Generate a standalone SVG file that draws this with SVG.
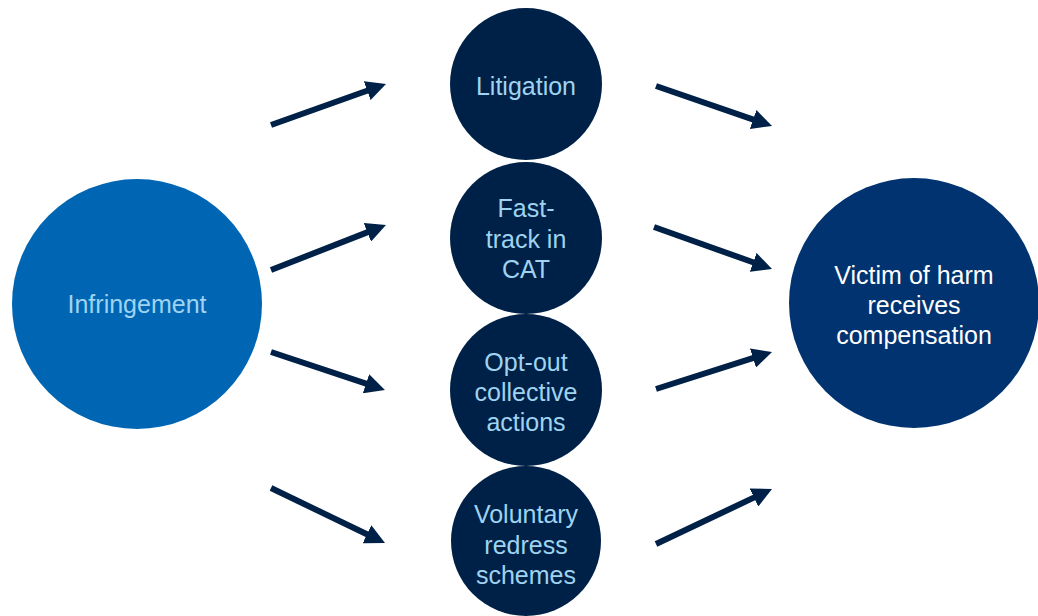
<svg xmlns="http://www.w3.org/2000/svg" width="1038" height="616" viewBox="0 0 1038 616">
<style>
.t{font-family:"Liberation Sans",Arial,sans-serif;font-size:25px;text-anchor:middle}
.lb{fill:#9fd3f0}
.w{fill:#ffffff}
.mid{fill:#002147}
.c{stroke:#002147;stroke-width:6;fill:none}
</style>
<defs>
<marker id="ah" viewBox="0 0 20 20" markerUnits="userSpaceOnUse" markerWidth="20" markerHeight="20" refX="8" refY="10" orient="auto">
<path d="M0,0 L20,10 L0,20 z" fill="#002147"/>
</marker>
</defs>
<rect width="1038" height="616" fill="#ffffff"/>
<g id="infringement">
<circle cx="137" cy="304" r="125" fill="#0066b3"/>
<text class="t lb" x="137" y="313">Infringement</text>
</g>
<g id="litigation">
<circle class="mid" cx="526" cy="84" r="76"/>
<text class="t lb" x="526" y="95">Litigation</text>
</g>
<g id="fasttrack">
<circle class="mid" cx="526" cy="238" r="76"/>
<text class="t lb" x="526" y="217">Fast-</text>
<text class="t lb" x="526" y="248">track in</text>
<text class="t lb" x="526" y="278">CAT</text>
</g>
<g id="optout">
<circle class="mid" cx="526" cy="390" r="76"/>
<text class="t lb" x="526" y="371">Opt-out</text>
<text class="t lb" x="526" y="401">collective</text>
<text class="t lb" x="526" y="431">actions</text>
</g>
<g id="voluntary">
<circle class="mid" cx="526" cy="541" r="75"/>
<text class="t lb" x="526" y="523">Voluntary</text>
<text class="t lb" x="526" y="554">redress</text>
<text class="t lb" x="526" y="584">schemes</text>
</g>
<g id="victim">
<circle cx="914" cy="303" r="125" fill="#003370"/>
<text class="t w" x="914" y="284">Victim of harm</text>
<text class="t w" x="914" y="314">receives</text>
<text class="t w" x="914" y="344">compensation</text>
</g>
<g id="connectors">
<line class="c" x1="271" y1="125" x2="374.7" y2="88" marker-end="url(#ah)"/>
<line class="c" x1="271" y1="270" x2="374.8" y2="229.4" marker-end="url(#ah)"/>
<line class="c" x1="271" y1="352" x2="373.6" y2="386.2" marker-end="url(#ah)"/>
<line class="c" x1="271" y1="488" x2="374.2" y2="537.8" marker-end="url(#ah)"/>
<line class="c" x1="656" y1="86" x2="760.7" y2="122.1" marker-end="url(#ah)"/>
<line class="c" x1="654" y1="227" x2="760.7" y2="265" marker-end="url(#ah)"/>
<line class="c" x1="656" y1="389" x2="760.6" y2="355.6" marker-end="url(#ah)"/>
<line class="c" x1="656" y1="544" x2="761.2" y2="494.1" marker-end="url(#ah)"/>
</g>
</svg>
